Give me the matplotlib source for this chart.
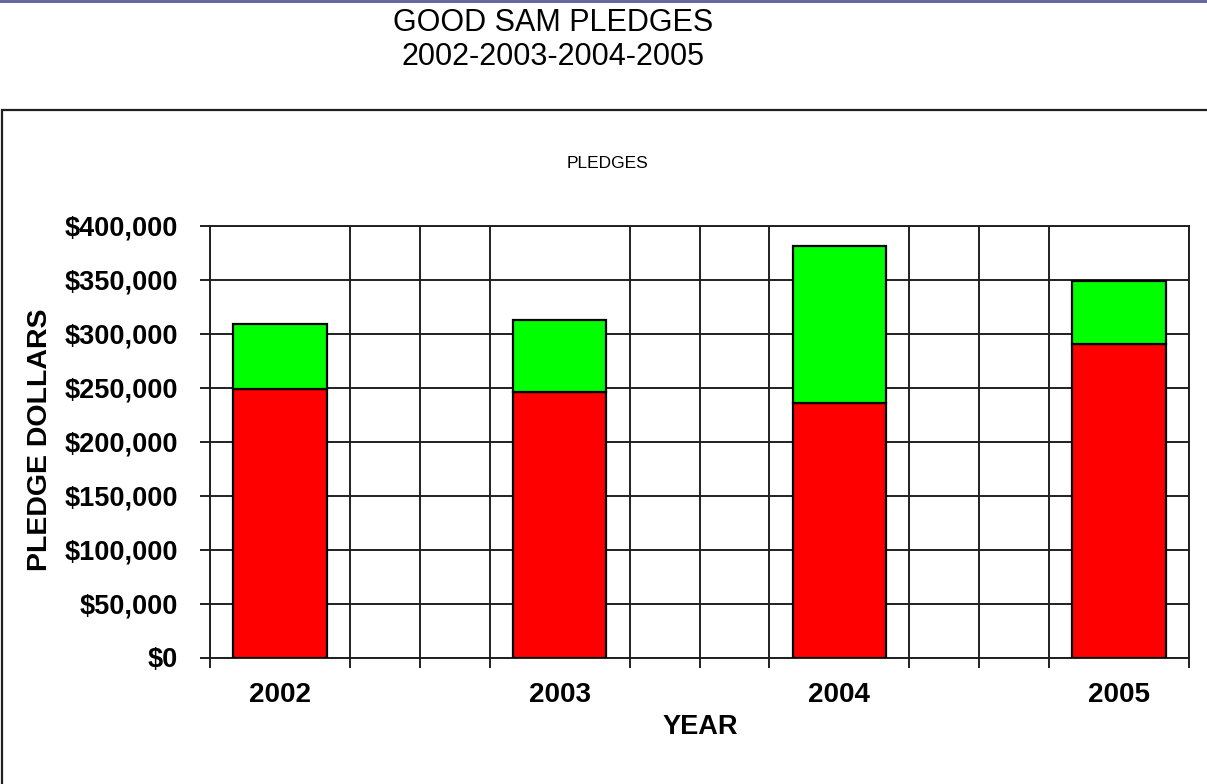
import matplotlib
matplotlib.use('Agg')
import matplotlib.pyplot as plt
import matplotlib.ticker as ticker
from matplotlib.patches import Rectangle

plt.rcParams['font.family'] = ['Liberation Sans', 'DejaVu Sans']

# -- data
years = ['2002', '2003', '2004', '2005']
base_pledges = [248500, 246500, 236000, 290500]     # red part
extra_pledges = [60500, 66000, 145000, 58500]       # green part on top
y_ticks = [0, 50000, 100000, 150000, 200000, 250000, 300000, 350000, 400000]

fig = plt.figure(figsize=(12.07, 7.84), dpi=100)

# -- purple strip and the outer chart box
fig.patches.append(Rectangle((0, 1 - 3 / 784), 1, 3 / 784, transform=fig.transFigure,
                             facecolor='#6868a4', edgecolor='none'))
fig.patches.append(Rectangle((2 / 1207, -0.05), 1.1, 1.05 - 110 / 784, transform=fig.transFigure,
                             facecolor='none', edgecolor='#202020', linewidth=1.6))

fig.text(553 / 1207, 1 - 23 / 784, 'GOOD SAM PLEDGES', ha='center', va='center', fontsize=22)
fig.text(553 / 1207, 1 - 57 / 784, '2002-2003-2004-2005', ha='center', va='center', fontsize=22)
fig.text(607 / 1207, 1 - 164 / 784, 'PLEDGES', ha='center', va='center', fontsize=12.5)

ax = fig.add_axes([210 / 1207, 1 - 657.5 / 784, (1189 - 210) / 1207, (657.5 - 226) / 784])

x = list(range(len(years)))
ax.bar(x, base_pledges, width=0.333, color='#ff0000', edgecolor='black', linewidth=1.6, zorder=3)
ax.bar(x, extra_pledges, width=0.333, bottom=base_pledges, color='#00ff00',
       edgecolor='black', linewidth=1.6, zorder=3)

ax.set_xlim(-0.25, 3.25)
ax.set_ylim(0, 400000)

ax.set_xticks(x)
ax.set_xticklabels(years, fontsize=20, fontweight='bold')
ax.set_xticks([-0.25 + 0.25 * i for i in range(15)], minor=True)
ax.tick_params(axis='x', which='major', length=0, pad=18)
ax.tick_params(axis='x', which='minor', length=7, width=1.4, color='#202020')

ax.set_yticks(y_ticks)
ax.yaxis.set_major_formatter(ticker.FuncFormatter(lambda v, p: '${:,.0f}'.format(v)))
ax.tick_params(axis='y', length=7, width=1.4, color='#202020', pad=16, labelsize=19.5)
for lab in ax.get_yticklabels():
    lab.set_fontweight('bold')

ax.grid(True, which='minor', axis='x', color='#202020', linewidth=1.4)
ax.grid(True, which='major', axis='y', color='#202020', linewidth=1.4)
ax.set_axisbelow(True)
for s in ax.spines.values():
    s.set_color('#202020')
    s.set_linewidth(1.4)

fig.text(700 / 1207, 1 - 727 / 784, 'YEAR', ha='center', va='center', fontsize=19.5, fontweight='bold')
fig.text(40 / 1207, 1 - 440 / 784, 'PLEDGE DOLLARS', ha='center', va='center', rotation=90,
         fontsize=20.5, fontweight='bold')

fig.savefig('out.png', dpi=100)
